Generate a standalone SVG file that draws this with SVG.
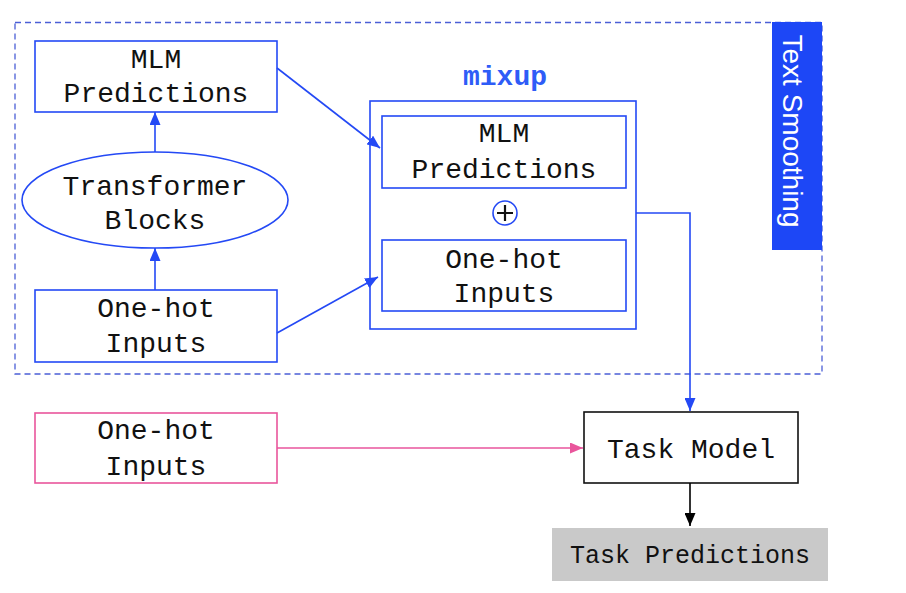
<svg xmlns="http://www.w3.org/2000/svg" width="906" height="593" viewBox="0 0 906 593">
<style>
.t{font-family:"Liberation Mono","Courier New",monospace;font-size:28px;fill:#111;text-anchor:middle}
.b{fill:#fff;stroke:#2449f5;stroke-width:1.6}
.c{fill:none;stroke:#2449f5;stroke-width:1.6}
</style>
<defs>
<marker id="ab" viewBox="0 0 13 11" refX="13" refY="5.5" markerWidth="13" markerHeight="11" markerUnits="userSpaceOnUse" orient="auto"><path d="M0,0L13,5.5L0,11z" fill="#2449f5"/></marker>
<marker id="ap" viewBox="0 0 13 11" refX="13" refY="5.5" markerWidth="13" markerHeight="11" markerUnits="userSpaceOnUse" orient="auto"><path d="M0,0L13,5.5L0,11z" fill="#e9559c"/></marker>
<marker id="ak" viewBox="0 0 13 11" refX="13" refY="5.5" markerWidth="13" markerHeight="11" markerUnits="userSpaceOnUse" orient="auto"><path d="M0,0L13,5.5L0,11z" fill="#000"/></marker>
</defs>
<rect width="906" height="593" fill="#fff"/>
<g id="text-smoothing">
<rect x="15" y="22.5" width="807" height="351.5" fill="none" stroke="#4b5fd6" stroke-width="1.3" stroke-dasharray="6,4"/>
<rect x="772" y="22" width="50" height="228" fill="#1d47f6"/>
<text transform="translate(783,131) rotate(90)" font-family="'Liberation Sans',Arial,sans-serif" font-size="28" fill="#fff" text-anchor="middle">Text Smoothing</text>
</g>
<g id="mlm-predictions">
<rect class="b" x="35" y="41" width="242" height="71"/>
<text class="t" x="156" y="68">MLM</text>
<text class="t" x="156" y="102">Predictions</text>
</g>
<g id="transformer-blocks">
<ellipse class="b" cx="155" cy="200" rx="133" ry="48"/>
<text class="t" x="155" y="195">Transformer</text>
<text class="t" x="155" y="229">Blocks</text>
</g>
<g id="one-hot-inputs">
<rect class="b" x="35" y="290" width="242" height="72"/>
<text class="t" x="156" y="317">One-hot</text>
<text class="t" x="156" y="352">Inputs</text>
</g>
<g id="mixup">
<text x="505" y="85" font-family="'Liberation Mono','Courier New',monospace" font-size="28" font-weight="bold" fill="#2e5cf7" text-anchor="middle">mixup</text>
<rect class="b" x="370" y="101" width="266" height="228"/>
<rect class="b" x="382" y="116" width="244" height="72"/>
<text class="t" x="504" y="142">MLM</text>
<text class="t" x="504" y="178">Predictions</text>
<circle cx="505" cy="213" r="12" fill="#fff" stroke="#2449f5" stroke-width="1.6"/>
<path d="M497,213H513M505,205V221" stroke="#111" stroke-width="2.2"/>
<rect class="b" x="382" y="240" width="244" height="71"/>
<text class="t" x="504" y="268">One-hot</text>
<text class="t" x="504" y="302">Inputs</text>
</g>
<g id="one-hot-inputs-2">
<rect x="35" y="413" width="242" height="70" fill="#fff" stroke="#e9559c" stroke-width="1.6"/>
<text class="t" x="156" y="439">One-hot</text>
<text class="t" x="156" y="475">Inputs</text>
</g>
<g id="task-model">
<rect x="584" y="412" width="214" height="71" fill="#fff" stroke="#111" stroke-width="1.6"/>
<text class="t" x="691" y="458">Task Model</text>
</g>
<g id="task-predictions">
<rect x="552" y="528" width="276" height="53" fill="#c9c9c9"/>
<text class="t" x="690" y="563" style="font-size:25px">Task Predictions</text>
</g>
<g id="connectors">
<path class="c" d="M155,152V112" marker-end="url(#ab)"/>
<path class="c" d="M155,290V248" marker-end="url(#ab)"/>
<path class="c" d="M277,68L380,148" marker-end="url(#ab)"/>
<path class="c" d="M277,333L378,277" marker-end="url(#ab)"/>
<path class="c" d="M636,213H690V411" marker-end="url(#ab)"/>
<path d="M277,448H583" fill="none" stroke="#e9559c" stroke-width="1.6" marker-end="url(#ap)"/>
<path d="M690,483V526" fill="none" stroke="#000" stroke-width="1.6" marker-end="url(#ak)"/>
</g>
</svg>
